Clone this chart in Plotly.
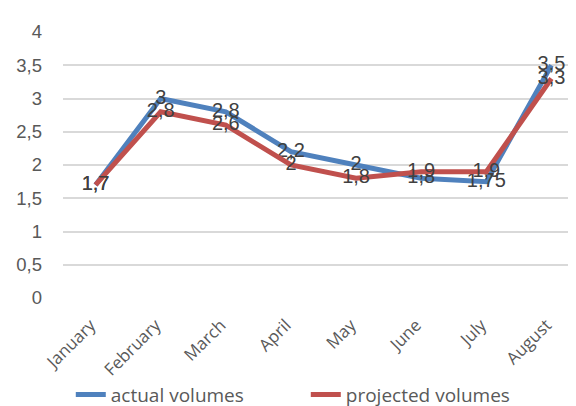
import plotly.graph_objects as go

months = ["January", "February", "March", "April", "May", "June", "July", "August"]
actual = [1.7, 3, 2.8, 2.2, 2, 1.8, 1.75, 3.5]
projected = [1.7, 2.8, 2.6, 2, 1.8, 1.9, 1.9, 3.3]
y_ticks = [0, 0.5, 1, 1.5, 2, 2.5, 3, 3.5, 4]
y_tick_labels = ["0", "0,5", "1", "1,5", "2", "2,5", "3", "3,5", "4"]

def fmt(v):
    return ("%g" % v).replace(".", ",")

ARIAL = "Liberation Sans, Arial, sans-serif"
SANS = "Open Sans, Lato, sans-serif"

fig = go.Figure()
fig.add_trace(go.Scatter(
    x=months, y=actual, name="actual volumes", mode="lines+text",
    line=dict(color="#4F81BD", width=5),
    text=[fmt(v) for v in actual], textposition="middle center",
    textfont=dict(family=ARIAL, size=20, color="#404040"),
))
fig.add_trace(go.Scatter(
    x=months, y=projected, name="projected volumes", mode="lines+text",
    line=dict(color="#C0504D", width=5),
    text=[fmt(v) for v in projected], textposition="middle center",
    textfont=dict(family=ARIAL, size=20, color="#404040"),
))

fig.update_layout(
    width=576, height=406,
    margin=dict(l=55, r=0, t=24, b=109),
    plot_bgcolor="white", paper_bgcolor="white",
    font=dict(family=SANS, color="#595959"),
    showlegend=True,
    legend=dict(orientation="h", x=0.466, xanchor="center", y=-0.363, yanchor="middle",
                entrywidth=190,
                font=dict(family=SANS, size=19, color="#595959")),
    xaxis=dict(type="category", range=[-0.5, 7.5], tickangle=-45, showgrid=False,
               showline=False, ticks="", ticklabelstandoff=13, ticklabelshift=-5,
               tickfont=dict(family=SANS, size=17, color="#595959")),
    yaxis=dict(range=[0, 4], tickvals=y_ticks, ticktext=y_tick_labels,
               showgrid=True, gridcolor="#D9D9D9", gridwidth=2, zeroline=False,
               showline=False, ticks="", ticklabelstandoff=20,
               tickfont=dict(family=ARIAL, size=18.5, color="#595959")),
)
fig.write_html("out.html")
